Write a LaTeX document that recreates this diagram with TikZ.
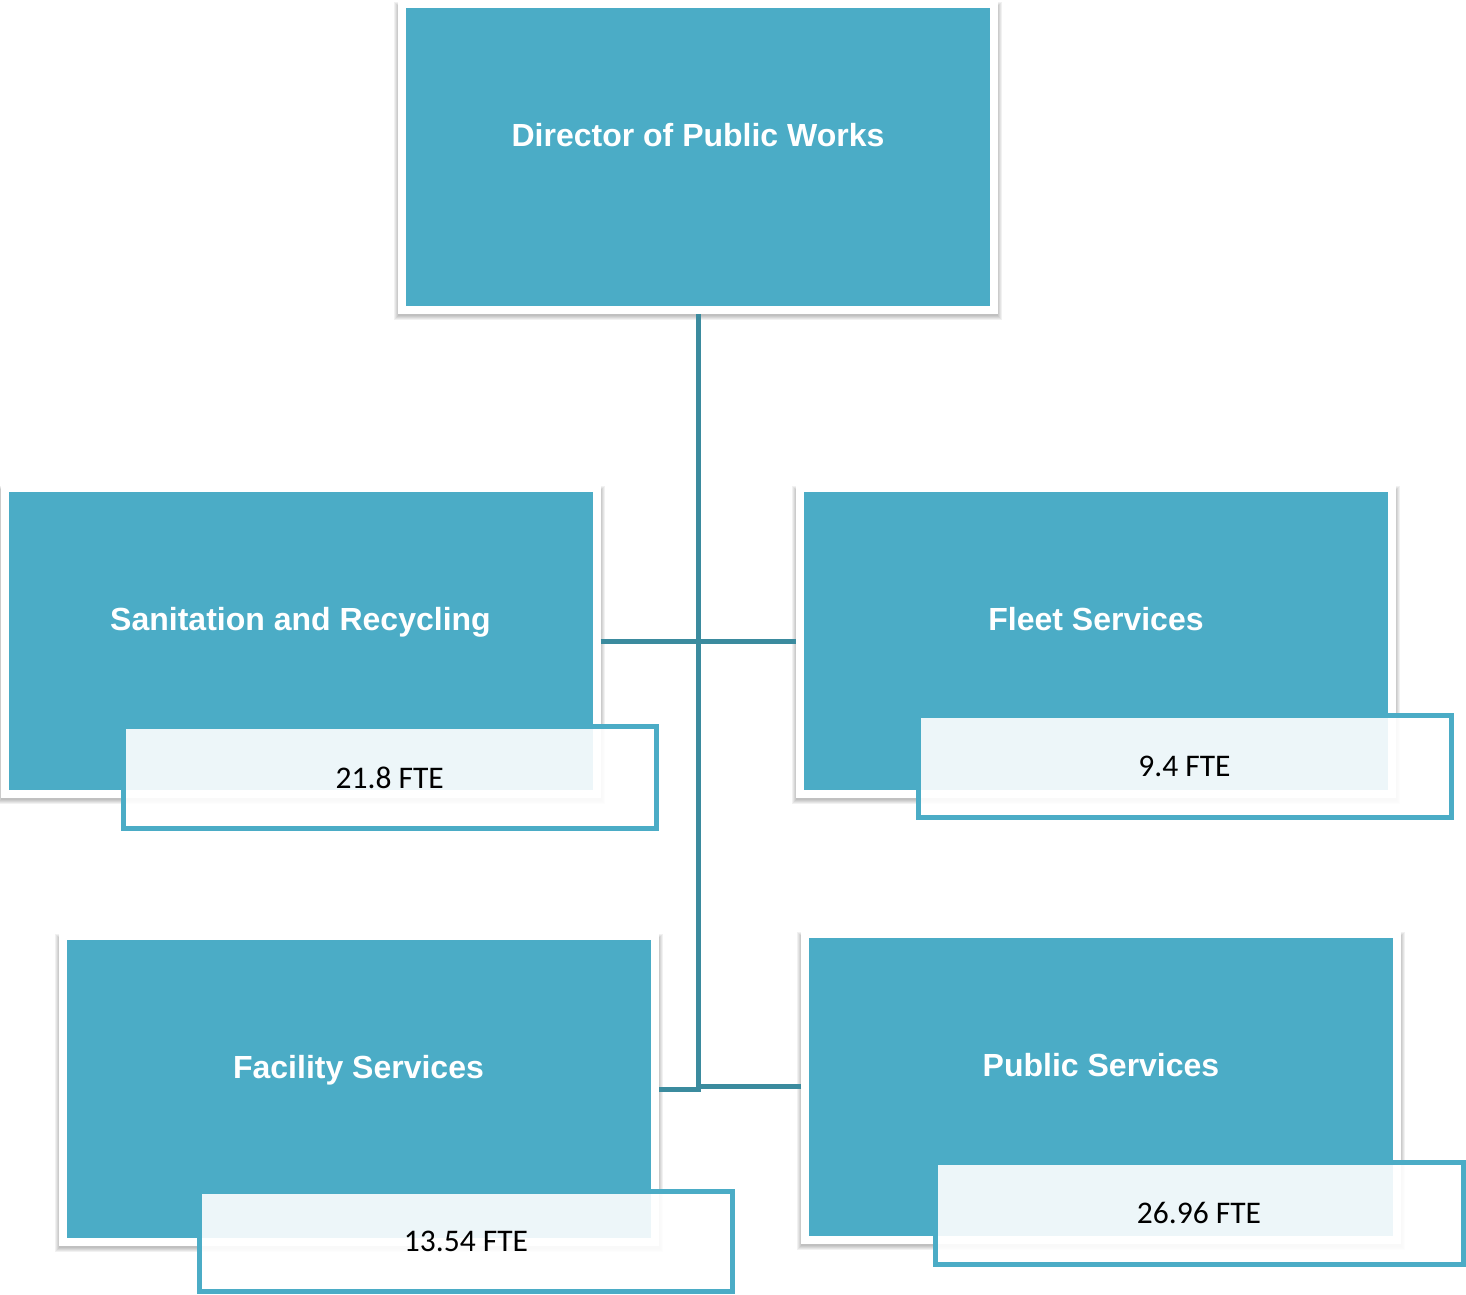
\documentclass[tikz,border=0pt]{standalone}
\usepackage{fontspec}
\setmainfont{Liberation Sans}
\newfontfamily\ftefont{Carlito}
\usetikzlibrary{backgrounds}
\definecolor{teal1}{RGB}{75,172,198}
\definecolor{conn}{RGB}{59,139,158}
\begin{document}
\begin{tikzpicture}[x=1pt,y=-1pt,
 unit/.style={rectangle, fill=teal1, draw=white, line width=8pt, inner sep=0pt, outer sep=4pt,
   minimum width=592pt, minimum height=306pt},
 shade1/.style={fill=black, opacity=0.055},
 title/.style={font=\bfseries\fontsize{32}{38}\selectfont, text=white, anchor=base, inner sep=0pt},
 ftebox/.style={rectangle, draw=teal1, line width=5pt, fill=white, fill opacity=0.9, text opacity=1,
   inner sep=0pt, minimum width=533pt, minimum height=102pt,
   font=\ftefont\fontsize{31.5}{36}\selectfont, text=black},
 link/.style={draw=conn, line width=5pt}]
\useasboundingbox (0,0) rectangle (1466,1294);
% main boxes
\node[unit] (dir) at (698,157) {};
\node[unit] (san) at (300.5,641) {};
\node[unit] (fleet) at (1096,641) {};
\node[unit] (fac) at (358.5,1089) {};
\node[unit] (pub) at (1101,1086.5) {};
% soft shadows
\begin{pgfonlayer}{background}
\foreach \n in {dir,san,fleet,fac,pub}{
  \foreach \k in {0,...,4}{
    \fill[shade1] ([xshift=-\k pt, yshift=-\k pt-2pt]\n.south west) rectangle ([xshift=\k pt, yshift=\k pt-6pt]\n.north east);
  }
}
\end{pgfonlayer}
% titles
\node[title] (dirt) at ([yshift=-146.5pt]dir.north) {Director of Public Works};
\node[title] (sant) at ([yshift=-146.5pt]san.north) {Sanitation and Recycling};
\node[title] (fleett) at ([yshift=-146.5pt]fleet.north) {Fleet Services};
\node[title] (fact) at ([yshift=-146.5pt]fac.north) {Facility Services};
\node[title] (pubt) at ([yshift=-146.5pt]pub.north) {Public Services};
% connectors
\draw[link] (dir.south) |- (fac.east);
\draw[link] (san.east) -- (fleet.west);
\draw[link] (pub.west) -- (pub.west -| dir.south);
% FTE boxes
\node[ftebox] (sanf) at (389.75,777.5) {21.8 FTE};
\node[ftebox] (fleetf) at (1184.5,766.25) {9.4 FTE};
\node[ftebox, minimum height=99.5pt] (facf) at (466,1241.25) {13.54 FTE};
\node[ftebox, minimum width=528pt] (pubf) at (1199,1213.25) {26.96 FTE};
\end{tikzpicture}
\end{document}
